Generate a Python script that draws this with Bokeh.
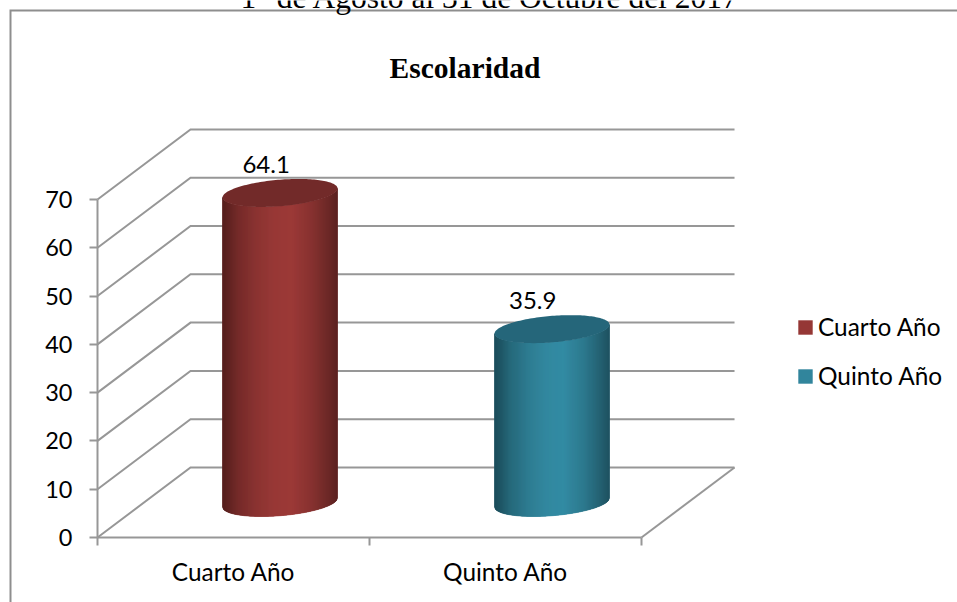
import numpy as np
from bokeh.embed import file_html
from bokeh.resources import INLINE
from bokeh.plotting import figure
from bokeh.core.properties import value
from bokeh.models import FixedTicker, Legend, LegendItem, LinearAxis, Range1d

# Chart data
categories = ["Cuarto Año", "Quinto Año"]
percentages = [64.1, 35.9]
value_ticks = [0, 10, 20, 30, 40, 50, 60, 70]
base_colors = ["#953735", "#31859C"]
cap_colors = ["#722A29", "#25667A"]
heading = "1° de Agosto al 31 de Octubre del 2017"
chart_title = "Escolaridad"

# Oblique projection of the box, in data units
DEPTH_X = 0.342
DEPTH_Y = 14.5
RADIUS = 0.2
LABEL_X = [0.62, 1.60]
LABEL_GAP = 13.2
GRID = "#979797"
FONT = "Lato"

# Horizontal shading across a cylinder: position 0..1 -> brightness factor
SHADE_POS = [0.0, 0.05, 0.14, 0.30, 0.45, 0.60, 0.78, 0.92, 1.0]
SHADE_VAL = [0.55, 0.62, 0.78, 0.93, 1.02, 1.05, 0.90, 0.72, 0.60]

# The plot frame spans the whole page; the origin sits at this pixel
W, H = 957, 602
ORIGIN_X, ORIGIN_Y = 97, 537
PX_X = 272.0
PX_Y = 4.829


def dx(px):
    return (px - ORIGIN_X) / PX_X


def dy(py):
    return (ORIGIN_Y - py) / PX_Y


p = figure(width=W, height=H, output_backend="svg", toolbar_location=None,
           x_axis_type=None, y_axis_type=None,
           min_border=0,
           x_range=Range1d(dx(0), dx(W)),
           y_range=Range1d(dy(H), dy(0)))
p.grid.visible = False
p.outline_line_color = None
p.background_fill_color = "white"
p.border_fill_color = "white"

# Chart area border, open towards the page edges
p.line([dx(10), dx(10), dx(W)], [dy(H), dy(10), dy(10)],
       line_color="#8E8E8E", line_width=2, line_join="miter")

# Back wall grid, side wall diagonals and floor edge
for v in value_ticks:
    p.line([0, DEPTH_X, 2 + DEPTH_X], [v, v + DEPTH_Y, v + DEPTH_Y],
           line_color=GRID, line_width=2, line_join="miter")
p.line([2, 2 + DEPTH_X], [0, DEPTH_Y], line_color=GRID, line_width=2)

# Axes, pinned to the origin of the projected box
y_axis = LinearAxis(ticker=FixedTicker(ticks=value_ticks), bounds=(0, 70), fixed_location=0)
x_axis = LinearAxis(ticker=FixedTicker(ticks=[0.5, 1.5], minor_ticks=[0, 1, 2]),
                    bounds=(0, 2), fixed_location=0,
                    major_label_overrides={0.5: categories[0], 1.5: categories[1]})
for ax in (x_axis, y_axis):
    ax.axis_line_color = GRID
    ax.axis_line_width = 2
    ax.major_label_text_font = FONT
    ax.major_label_text_color = "black"
y_axis.major_label_text_font_size = "23.5px"
y_axis.major_tick_line_color = GRID
y_axis.major_tick_line_width = 2
y_axis.major_tick_out = 8
y_axis.major_tick_in = 0
y_axis.minor_tick_line_color = None
y_axis.major_label_standoff = 17
x_axis.major_label_text_font_size = "24.4px"
x_axis.major_tick_line_color = None
x_axis.minor_tick_line_color = GRID
x_axis.minor_tick_line_width = 2
x_axis.minor_tick_out = 8
x_axis.minor_tick_in = 0
x_axis.major_label_standoff = 11
p.add_layout(y_axis, "left")
p.add_layout(x_axis, "below")


def shaded(hex_color, factor):
    rgb = [int(hex_color[i:i + 2], 16) for i in (1, 3, 5)]
    return "#%02x%02x%02x" % tuple(min(255, int(round(c * factor))) for c in rgb)


def cylinder(index, height):
    """Draw one oblique cylinder standing on the middle of its floor cell."""
    cx = index + 0.5 + DEPTH_X / 2
    cy = DEPTH_Y / 2
    vx, vy = RADIUS * DEPTH_X, RADIUS * DEPTH_Y
    reach = np.hypot(RADIUS, vx)
    phi = np.arctan2(vx, RADIUS)

    def lower_edge(s):
        return vy * np.sin(phi - np.arccos(np.clip(s / reach, -1, 1)))

    # silhouette in the series colour (also what the legend swatch shows)
    s = np.linspace(-reach, reach, 160)
    low = lower_edge(s)
    xs = np.concatenate([cx + s, (cx + s)[::-1]])
    ys = np.concatenate([cy + low, (cy + height + low)[::-1]])
    body = p.patch(xs, ys, fill_color=base_colors[index], line_color=None)

    # vertical strips carry the horizontal shading
    edges = np.linspace(-reach, reach, 116)
    strip_x, strip_y, strip_c = [], [], []
    for a, b in zip(edges[:-1], edges[1:]):
        mid = ((a + b) / 2 + reach) / (2 * reach)
        strip_x.append([cx + a, cx + b, cx + b, cx + a])
        strip_y.append([cy + lower_edge(a), cy + lower_edge(b),
                        cy + height + lower_edge(b), cy + height + lower_edge(a)])
        strip_c.append(shaded(base_colors[index], float(np.interp(mid, SHADE_POS, SHADE_VAL))))
    p.patches(strip_x, strip_y, fill_color=strip_c, line_color=strip_c, line_width=0.6)

    # top face
    t = np.linspace(0, 2 * np.pi, 160)
    p.patch(cx + RADIUS * np.cos(t) + vx * np.sin(t),
            cy + height + vy * np.sin(t),
            fill_color=cap_colors[index], line_color=None)

    # value label above the cap
    p.text([LABEL_X[index]], [height + LABEL_GAP], text=[str(height)],
           text_font=value(FONT), text_font_size="24px", text_color="black",
           text_align="center", text_baseline="middle")
    return body


bodies = [cylinder(i, h) for i, h in enumerate(percentages)]

legend = Legend(items=[LegendItem(label=c, renderers=[r]) for c, r in zip(categories, bodies)],
                location=(796, 212),
                border_line_color=None, background_fill_alpha=0,
                margin=0, padding=0, spacing=20,
                glyph_width=18, glyph_height=18, label_height=28,
                label_standoff=4, label_text_font=FONT,
                label_text_font_size="24.4px", label_text_color="black")
p.add_layout(legend, "center")

# Document heading running off the top of the page, and the chart title
p.text([dx(240)], [dy(-3)], text=[heading],
       text_font=value("Liberation Serif"), text_font_size="31.5px",
       text_color="black", text_baseline="alphabetic")
p.text([dx(464.5)], [dy(67)], text=[chart_title],
       text_font=value("Liberation Serif"), text_font_size="29.5px",
       text_font_style="bold", text_color="black",
       text_align="center", text_baseline="middle")

open("out.html", "w").write(file_html(p, INLINE))
